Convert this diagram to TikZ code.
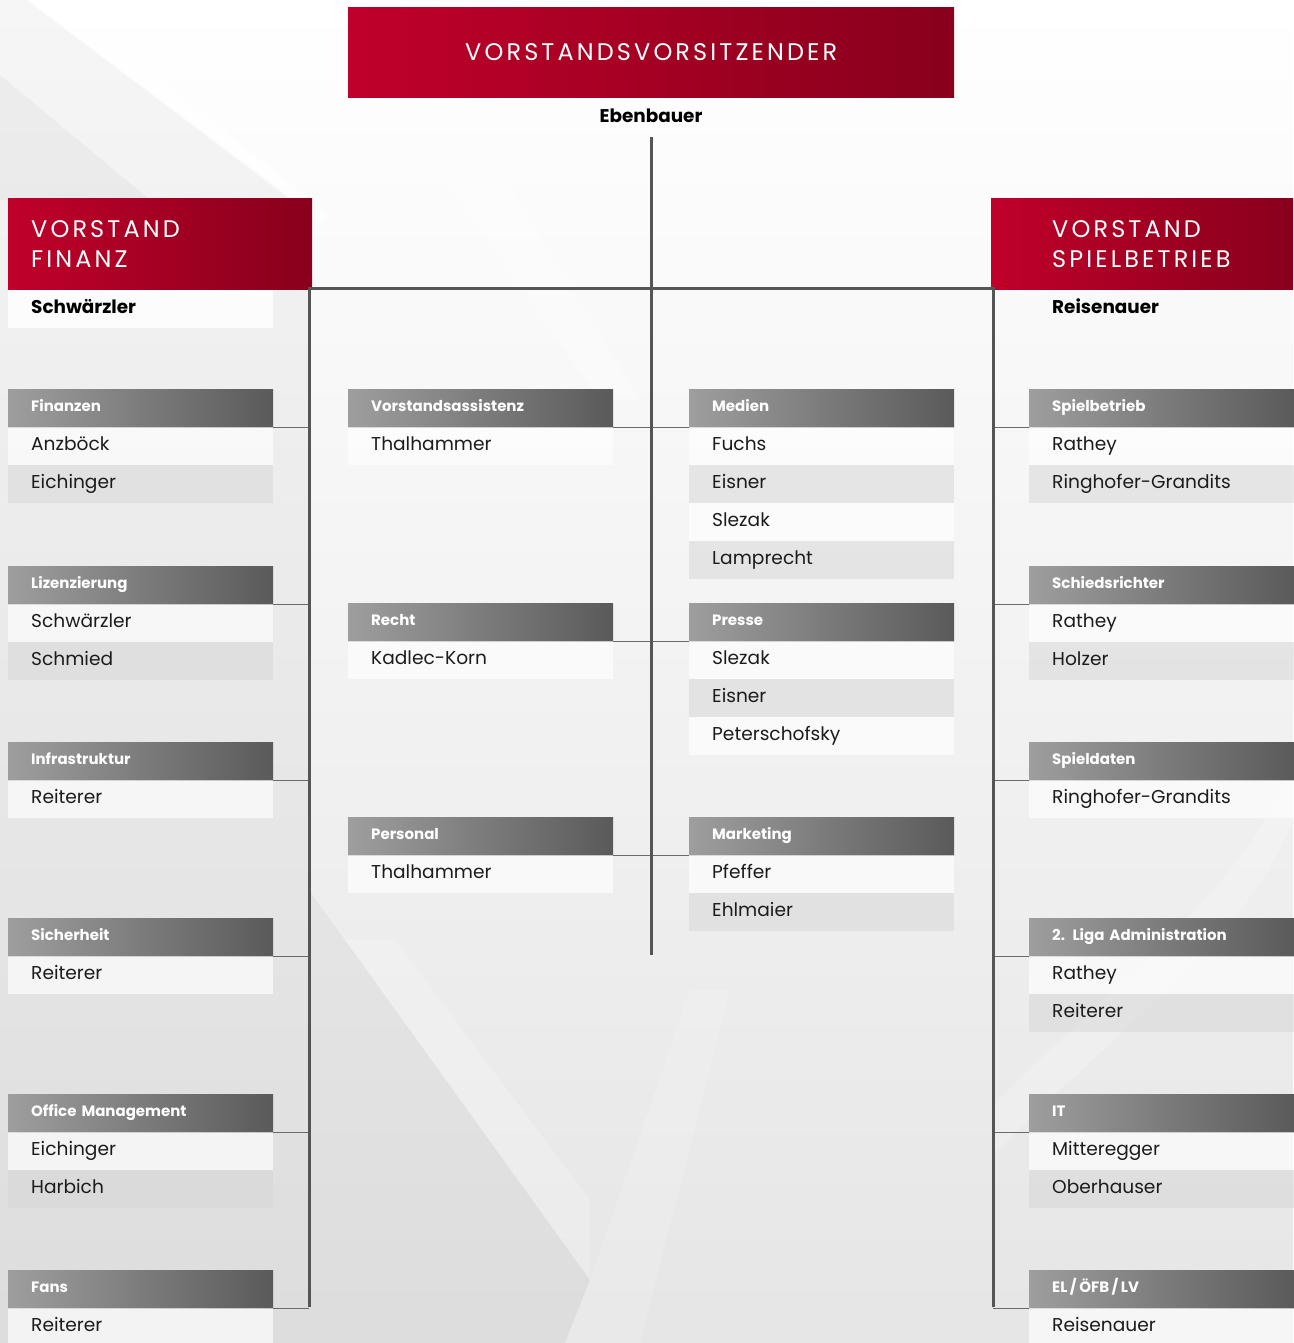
\documentclass[tikz,border=0pt]{standalone}
\usepackage{fontspec}
\setmainfont{Poppins}
\usetikzlibrary{calc}

\definecolor{redA}{HTML}{C0002A}
\definecolor{redB}{HTML}{88001C}
\definecolor{barA}{HTML}{9E9E9E}
\definecolor{barB}{HTML}{5A5A5A}
\definecolor{rowB}{HTML}{D6D6D6}
\definecolor{lineC}{HTML}{555555}
\definecolor{tickC}{HTML}{6A6A6A}
\definecolor{inkC}{HTML}{1C1C1C}

\tikzset{
  redhead/.style={rectangle, inner sep=0pt, left color=redA, right color=redB,
    text=white, font=\fontsize{24}{30}\selectfont\addfontfeatures{LetterSpace=13}},
  barhead/.style={rectangle, anchor=north west, minimum width=265pt, minimum height=38pt,
    inner xsep=23pt, inner ysep=0pt, text width=219pt, align=left,
    text height=11pt, text depth=3.5pt,
    left color=barA, right color=barB, text=white, font=\bfseries\fontsize{15}{17}\selectfont},
  row/.style={rectangle, anchor=north west, minimum width=265pt, minimum height=38pt,
    inner xsep=23pt, inner ysep=0pt, text width=219pt, align=left,
    text height=13.5pt, text depth=4.5pt,
    text=inkC, font=\fontsize{18.6}{21}\selectfont},
  oddrow/.style={row, fill=white, fill opacity=0.65, text opacity=1},
  evenrow/.style={row, fill=rowB, fill opacity=0.5, text opacity=1},
  lead/.style={row, text=black, font=\bfseries\fontsize{18.4}{21}\selectfont},
  bus/.style={draw=lineC, line width=3pt},
  tick/.style={draw=tickC, line width=1.6pt},
}

% one department: header bar and the stacked rows of names below it
\newcommand{\orggroup}[5]{%
  \node[barhead] (#1) at (#2,#3) {#4};
  \foreach \nm [count=\i] in {#5} {
    \pgfmathsetmacro{\yy}{#3+38*\i}
    \ifodd\i
      \node[oddrow] (#1-\i) at (#2,\yy) {\nm};
    \else
      \node[evenrow] (#1-\i) at (#2,\yy) {\nm};
    \fi
  }%
}

\begin{document}
\begin{tikzpicture}[x=1pt, y=-1pt]
% canvas: white towards the upper right, grey towards the lower left
\fill[white] (0,0) rectangle (1293,1343);
\shade[shading angle=-30, top color=white, bottom color=black!10] (0,0) rectangle (1293,1343);
\useasboundingbox (0,0) rectangle (1293,1343);
% soft diagonal streaks
\fill[black, opacity=0.035] (0,0) -- (27,0) -- (309,210) -- (309,1343) -- (0,1343) -- cycle;
\fill[black, opacity=0.03] (0,75) -- (150,200) -- (0,200) -- cycle;
\fill[white, opacity=0.7] (27,0) -- (60,0) -- (330,215) -- (320,222) -- cycle;
\fill[white, opacity=0.3] (400,120) -- (470,120) -- (640,400) -- (600,400) -- cycle;
\fill[black, opacity=0.035] (309,890) -- (345,940) -- (590,1280) -- (565,1343) -- (309,1343) -- cycle;
\fill[white, opacity=0.2] (345,940) -- (395,940) -- (590,1200) -- (590,1280) -- cycle;
\fill[white, opacity=0.15] (590,1280) -- (690,990) -- (730,990) -- (640,1343) -- (565,1343) -- cycle;
\fill[white, opacity=0.22] (993,1105) .. controls (1150,950) and (1250,880) .. (1293,760)
  -- (1293,820) .. controls (1250,930) and (1150,1000) .. (993,1155) -- cycle;

% board
\node[redhead, anchor=north west, minimum width=606pt, minimum height=90pt] (chair) at (348,7)
  {VORSTANDSVORSITZENDER};
\node[font=\bfseries\fontsize{18.4}{21}\selectfont, text=black] (chairname) at (651,116) {Ebenbauer};

\node[redhead, anchor=north west, minimum width=304pt, minimum height=91pt,
  inner xsep=23pt, text width=258pt, align=left] (fin) at (8,198) {VORSTAND\\FINANZ};
\node[oddrow, fill opacity=0.8, lead] (finname) at (8,290) {Schwärzler};

\node[redhead, anchor=north west, minimum width=302pt, minimum height=91pt,
  inner xsep=61pt, text width=180pt, align=left] (spiel) at (991,198) {VORSTAND\\SPIELBETRIEB};
\node[lead, minimum width=264pt, text width=218pt] (spielname) at (1029,290) {Reisenauer};

% departments: finance column
\orggroup{finanzen}{8}{389}{Finanzen}{Anzböck,Eichinger}
\orggroup{lizenz}{8}{566}{Lizenzierung}{Schwärzler,Schmied}
\orggroup{infra}{8}{742}{Infrastruktur}{Reiterer}
\orggroup{sicher}{8}{918}{Sicherheit}{Reiterer}
\orggroup{office}{8}{1094}{Office Management}{Eichinger,Harbich}
\orggroup{fans}{8}{1270}{Fans}{Reiterer}

% departments: chair, left of trunk
\orggroup{assist}{348}{389}{Vorstandsassistenz}{Thalhammer}
\orggroup{recht}{348}{603}{Recht}{Kadlec-Korn}
\orggroup{personal}{348}{817}{Personal}{Thalhammer}

% departments: chair, right of trunk
\orggroup{medien}{689}{389}{Medien}{Fuchs,Eisner,Slezak,Lamprecht}
\orggroup{presse}{689}{603}{Presse}{Slezak,Eisner,Peterschofsky}
\orggroup{marketing}{689}{817}{Marketing}{Pfeffer,Ehlmaier}

% departments: match operations column
\orggroup{spielb}{1029}{389}{Spielbetrieb}{Rathey,Ringhofer-Grandits}
\orggroup{schiri}{1029}{566}{Schiedsrichter}{Rathey,Holzer}
\orggroup{daten}{1029}{742}{Spieldaten}{Ringhofer-Grandits}
\orggroup{liga}{1029}{918}{2. Liga Administration}{Rathey,Reiterer}
\orggroup{it}{1029}{1094}{IT}{Mitteregger,Oberhauser}
\orggroup{el}{1029}{1270}{EL\,/\,ÖFB\,/\,LV}{Reisenauer}

% bus lines
\coordinate (trunktop) at (651,137);
\coordinate (trunkbot) at (651,955);
\coordinate (lbustop) at (309,288);
\coordinate (lbusbot) at (309,1307);
\coordinate (rbustop) at (993,288);
\coordinate (rbusbot) at (993,1307);

% ticks from each department to its bus
\foreach \d in {finanzen,lizenz,infra,sicher,office,fans}
  \draw[tick] (\d.south east) -- (\d.south east -| lbustop);
\foreach \d in {assist,recht,personal}
  \draw[tick] (\d.south east) -- (\d.south east -| trunktop);
\foreach \d in {medien,presse,marketing}
  \draw[tick] (\d.south west) -- (\d.south west -| trunktop);
\foreach \d in {spielb,schiri,daten,liga,it,el}
  \draw[tick] (\d.south west) -- (\d.south west -| rbustop);

\draw[bus] (lbusbot) -- (lbustop) -- (rbustop) -- (rbusbot);
\draw[bus] (trunktop) -- (trunkbot);
\end{tikzpicture}
\end{document}
